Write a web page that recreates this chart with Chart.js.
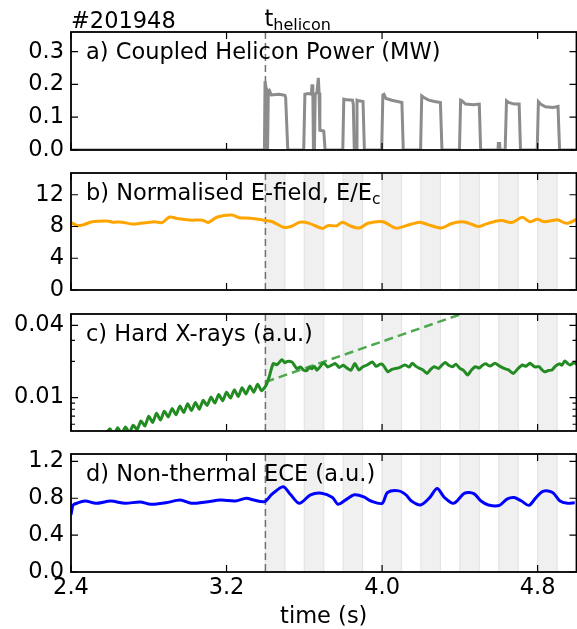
<!DOCTYPE html>
<html>
<head>
<meta charset="utf-8">
<script src="https://cdn.jsdelivr.net/npm/chart.js@4.4.1/dist/chart.umd.min.js"></script>
<style>
  html, body { margin: 0; padding: 0; background: #fff; }
  #wrap { position: relative; width: 577px; height: 629px; }
  #wrap canvas { position: absolute; left: 0; top: 0; }
</style>
</head>
<body>
<div id="wrap">
  <canvas id="panelA" width="577" height="629"></canvas>
  <canvas id="panelB" width="577" height="629"></canvas>
  <canvas id="panelC" width="577" height="629"></canvas>
  <canvas id="panelD" width="577" height="629"></canvas>
</div>
<script>
// ============================================
// Shot #201948 - helicon pulses vs runaway signals
// 4 stacked panels sharing the time axis
// ============================================

const shotLabel = '#201948';
const tHelicon = 3.4;
const xTicks = [2.4, 3.2, 4.0, 4.8];

// helicon pulse windows (grey bands)
const pulseStart = [3.4, 3.6, 3.8, 4.0, 4.2, 4.4, 4.6, 4.8];
const pulseEnd   = [3.5, 3.7, 3.9, 4.1, 4.3, 4.5, 4.7, 4.9];

// a) coupled helicon power (MW)
const powerTime = [2.40, 3.395, 3.398, 3.403, 3.406, 3.411, 3.415, 3.420, 3.430, 3.470, 3.500, 3.504, 3.515,
  3.597, 3.603, 3.620, 3.636, 3.640, 3.644, 3.647, 3.652, 3.656, 3.665, 3.672, 3.676, 3.680, 3.700, 3.707,
  3.798, 3.803, 3.820, 3.848, 3.852, 3.857, 3.866, 3.871, 3.880, 3.902, 3.909,
  3.998, 4.004, 4.010, 4.020, 4.050, 4.080, 4.102, 4.109,
  4.198, 4.204, 4.215, 4.240, 4.270, 4.300, 4.308,
  4.398, 4.404, 4.410, 4.430, 4.470, 4.500, 4.507,
  4.596, 4.598, 4.605, 4.607,
  4.633, 4.640, 4.650, 4.680, 4.705, 4.712,
  4.798, 4.804, 4.815, 4.840, 4.880, 4.905, 4.913, 5.0];
const powerMW = [0, 0, 0.21, 0.19, 0.02, 0, 0.18, 0.182, 0.168, 0.17, 0.167, 0.16, 0,
  0, 0.17, 0.172, 0.17, 0.20, 0.17, 0, 0, 0.17, 0.175, 0.22, 0.175, 0.06, 0.058, 0,
  0, 0.155, 0.153, 0.152, 0.14, 0, 0, 0.152, 0.15, 0.148, 0,
  0, 0.168, 0.17, 0.157, 0.152, 0.148, 0.145, 0,
  0, 0.165, 0.16, 0.152, 0.148, 0.145, 0,
  0, 0.152, 0.15, 0.14, 0.138, 0.14, 0,
  0, 0.02, 0.02, 0,
  0, 0.15, 0.145, 0.14, 0.14, 0,
  0, 0.147, 0.14, 0.132, 0.13, 0.133, 0, 0];
const powerTicks = [0, 0.1, 0.2, 0.3];

// b) normalised E-field E/Ec
const efieldTime = [2.400, 2.434, 2.462, 2.510, 2.585, 2.614, 2.661, 2.718, 2.756, 2.793, 2.831, 2.869, 2.907,
  2.945, 3.020, 3.077, 3.105, 3.153, 3.228, 3.266, 3.323, 3.399, 3.436, 3.493, 3.531, 3.578, 3.626,
  3.692, 3.720, 3.767, 3.796, 3.834, 3.881, 3.928, 4.004, 4.070, 4.117, 4.193, 4.240, 4.306, 4.354,
  4.410, 4.448, 4.495, 4.533, 4.590, 4.618, 4.666, 4.722, 4.760, 4.798, 4.836, 4.874, 4.902, 4.949, 5.0];
const efield = [8.5, 8.1, 8.2, 8.6, 8.7, 8.55, 8.55, 8.3, 8.4, 8.5, 8.6, 8.5, 9.2,
  9.0, 8.8, 8.8, 8.5, 9.2, 9.45, 9.1, 9.05, 8.76, 8.6, 7.9, 8.0, 8.55, 8.4,
  7.75, 8.1, 8.1, 8.55, 8.1, 7.8, 8.4, 8.6, 7.8, 8.05, 8.55, 8.2, 7.8, 8.35,
  8.6, 8.4, 8.0, 8.3, 8.7, 8.75, 8.5, 9.15, 8.6, 8.9, 8.6, 8.75, 8.85, 8.4, 8.9];
const efieldTicks = [0, 4, 8, 12];

// c) hard X-rays (a.u., log axis)
const hxrTime = [2.56, 2.58, 2.60, 2.62, 2.64, 2.66, 2.68, 2.70, 2.72, 2.74, 2.76, 2.78, 2.80, 2.82, 2.84,
  2.86, 2.88, 2.90, 2.92, 2.94, 2.96, 2.98, 3.00, 3.02, 3.04, 3.06, 3.08, 3.10, 3.12, 3.14, 3.16,
  3.18, 3.20, 3.22, 3.24, 3.26, 3.28, 3.30, 3.32, 3.34, 3.36, 3.38, 3.40,
  3.405, 3.42, 3.44, 3.46, 3.485, 3.50, 3.511, 3.536, 3.55, 3.562, 3.58, 3.595, 3.613, 3.625, 3.639,
  3.652, 3.665, 3.68, 3.70, 3.72, 3.74, 3.76, 3.78, 3.80, 3.82, 3.84, 3.86, 3.88, 3.90, 3.92, 3.95,
  3.97, 3.99, 4.005, 4.03, 4.05, 4.07, 4.09, 4.117, 4.14, 4.155, 4.175, 4.193, 4.21, 4.231, 4.25,
  4.268, 4.29, 4.31, 4.325, 4.345, 4.363, 4.38, 4.40, 4.42, 4.44, 4.46, 4.48, 4.50, 4.515, 4.533,
  4.555, 4.58, 4.60, 4.628, 4.65, 4.675, 4.70, 4.722, 4.74, 4.76, 4.785, 4.808, 4.82, 4.836, 4.855,
  4.874, 4.89, 4.912, 4.925, 4.94, 4.955, 4.968, 4.987, 5.0];
const hxr = [0.0040, 0.0050, 0.0055, 0.0049, 0.0056, 0.0050, 0.0057, 0.0051, 0.0059, 0.0054, 0.0064, 0.0058, 0.0070, 0.0062, 0.0074,
  0.0065, 0.0077, 0.0069, 0.0081, 0.0072, 0.0085, 0.0075, 0.0089, 0.0078, 0.0091, 0.0080, 0.0095, 0.0086, 0.0101, 0.0090, 0.0106,
  0.0094, 0.0111, 0.0099, 0.0116, 0.0102, 0.0121, 0.0107, 0.0125, 0.0111, 0.0129, 0.0114, 0.0124,
  0.0128, 0.0150, 0.0192, 0.0188, 0.0207, 0.0195, 0.0200, 0.0198, 0.0185, 0.0174, 0.0180, 0.0170, 0.0168, 0.0178, 0.0174,
  0.0182, 0.0169, 0.0180, 0.0195, 0.0180, 0.0186, 0.0192, 0.0178, 0.0186, 0.0176, 0.0169, 0.0192, 0.0170, 0.0180, 0.0186, 0.0198,
  0.0182, 0.0190, 0.0187, 0.0164, 0.0172, 0.0175, 0.0178, 0.0187, 0.0180, 0.0193, 0.0182, 0.0175, 0.0170, 0.0159, 0.0172,
  0.0181, 0.0175, 0.0188, 0.0196, 0.0185, 0.0181, 0.0190, 0.0175, 0.0168, 0.0154, 0.0170, 0.0181, 0.0176, 0.0185, 0.0191,
  0.0183, 0.0193, 0.0185, 0.0175, 0.0170, 0.0159, 0.0175, 0.0187, 0.0182, 0.0193, 0.0180, 0.0181, 0.0172, 0.0164, 0.0168,
  0.0170, 0.0182, 0.0191, 0.0186, 0.0202, 0.0192, 0.0187, 0.0196, 0.0190];
// exponential extrapolation of the pre-helicon growth
const hxrFitTime = [3.40, 4.45];
const hxrFit = [0.0135, 0.0524];
const hxrTicks = [0.01, 0.04];
const hxrMinorTicks = [0.006, 0.007, 0.008, 0.009, 0.02, 0.03];

// d) non-thermal ECE (a.u.)
const eceTime = [2.400, 2.409, 2.415, 2.472, 2.528, 2.604, 2.679, 2.755, 2.811, 2.887, 2.962, 3.019, 3.094,
  3.170, 3.245, 3.302, 3.340, 3.396, 3.434, 3.491, 3.528, 3.575, 3.632, 3.689, 3.745, 3.774, 3.811,
  3.858, 3.906, 3.943, 4.000, 4.028, 4.085, 4.123, 4.151, 4.198, 4.245, 4.283, 4.321, 4.368, 4.425,
  4.472, 4.509, 4.547, 4.604, 4.642, 4.679, 4.717, 4.755, 4.792, 4.830, 4.877, 4.915, 4.953, 4.991];
const ece = [0.62, 0.72, 0.734, 0.77, 0.745, 0.77, 0.745, 0.76, 0.734, 0.75, 0.78, 0.745, 0.76,
  0.78, 0.77, 0.80, 0.78, 0.763, 0.844, 0.925, 0.844, 0.745, 0.837, 0.855, 0.807, 0.734, 0.78,
  0.837, 0.815, 0.77, 0.745, 0.862, 0.88, 0.837, 0.77, 0.727, 0.807, 0.906, 0.807, 0.745, 0.855,
  0.85, 0.77, 0.727, 0.723, 0.79, 0.807, 0.77, 0.723, 0.807, 0.877, 0.862, 0.77, 0.745, 0.75];
const eceTicks = [0, 0.4, 0.8, 1.2];

const FONT = 'DejaVu Sans';
const FS = 22.5;
Chart.defaults.font.family = FONT;
Chart.defaults.font.size = FS;
Chart.defaults.color = '#000';

function pts(xs, ys) {
    return xs.map((x, i) => ({ x: x, y: ys[i] }));
}

// text with an optional subscript part
function drawSubText(ctx, x, y, main, sub, subSize, drop) {
    ctx.font = FS + 'px "' + FONT + '"';
    ctx.fillText(main, x, y);
    if (!sub) return;
    const w = ctx.measureText(main).width;
    ctx.font = subSize + 'px "' + FONT + '"';
    ctx.fillText(sub, x + w, y + drop);
}

// matplotlib-like frame: shaded pulses, t_helicon marker, inward ticks, panel label
const framePlugin = {
    id: 'frame',
    beforeDatasetsDraw(chart, args, opts) {
        const { ctx, chartArea: a, scales: { x } } = chart;
        ctx.save();
        if (opts.bands) {
            for (let i = 0; i < pulseStart.length; i++) {
                const x0 = x.getPixelForValue(pulseStart[i]);
                const x1 = x.getPixelForValue(pulseEnd[i]);
                ctx.fillStyle = '#f0f0f0';
                ctx.fillRect(x0, a.top, x1 - x0, a.bottom - a.top);
                ctx.strokeStyle = '#e4e4e4';
                ctx.lineWidth = 1.2;
                ctx.beginPath();
                ctx.moveTo(x0, a.top); ctx.lineTo(x0, a.bottom);
                ctx.moveTo(x1, a.top); ctx.lineTo(x1, a.bottom);
                ctx.stroke();
            }
        }
        const xh = x.getPixelForValue(tHelicon);
        ctx.strokeStyle = '#707070';
        ctx.lineWidth = 1.5;
        ctx.setLineDash([7, 4]);
        ctx.beginPath();
        ctx.moveTo(xh, a.top);
        ctx.lineTo(xh, a.bottom);
        ctx.stroke();
        ctx.restore();
    },
    afterDatasetsDraw(chart, args, opts) {
        const { ctx, chartArea: a, scales: { x, y } } = chart;
        ctx.save();
        ctx.strokeStyle = '#000';
        ctx.lineWidth = 1.8;
        ctx.strokeRect(a.left, a.top, a.right - a.left, a.bottom - a.top);
        ctx.lineWidth = 1.2;
        ctx.beginPath();
        xTicks.forEach(v => {
            const px = x.getPixelForValue(v);
            ctx.moveTo(px, a.bottom); ctx.lineTo(px, a.bottom - 7);
            ctx.moveTo(px, a.top); ctx.lineTo(px, a.top + 7);
        });
        opts.yTicks.forEach(v => {
            const py = y.getPixelForValue(v);
            ctx.moveTo(a.left, py); ctx.lineTo(a.left + 7, py);
            ctx.moveTo(a.right, py); ctx.lineTo(a.right - 7, py);
        });
        (opts.yMinor || []).forEach(v => {
            const py = y.getPixelForValue(v);
            ctx.moveTo(a.left, py); ctx.lineTo(a.left + 4, py);
            ctx.moveTo(a.right, py); ctx.lineTo(a.right - 4, py);
        });
        ctx.stroke();
        ctx.restore();
    },
    afterDraw(chart, args, opts) {
        const { ctx, chartArea: a } = chart;
        ctx.save();
        ctx.fillStyle = '#000';
        ctx.textAlign = 'left';
        ctx.textBaseline = 'alphabetic';
        drawSubText(ctx, a.left + 15, a.top + 27, opts.label, opts.labelSub, 15.5, 4);
        if (opts.header) {
            drawSubText(ctx, a.left, 28, shotLabel, null);
            const xh = chart.scales.x.getPixelForValue(tHelicon);
            drawSubText(ctx, xh - 1, 25.5, 't', 'helicon', 16, 4);
        }
        ctx.restore();
    }
};

function makePanel(id, p) {
    const isBottom = !!p.bottom;
    const datasets = [{
        data: pts(p.xs, p.ys),
        borderColor: p.color,
        borderWidth: 3,
        pointRadius: 0,
        tension: p.tension || 0,
        clip: 0
    }];
    if (p.extra) datasets.push(p.extra);

    new Chart(document.getElementById(id).getContext('2d'), {
        type: 'line',
        data: { datasets: datasets },
        options: {
            responsive: false,
            animation: false,
            events: [],
            layout: { padding: { top: p.top, bottom: p.padBottom, left: 0, right: 0.5 } },
            plugins: {
                legend: { display: false },
                tooltip: { enabled: false },
                frame: {
                    bands: p.bands, yTicks: p.yTicks, yMinor: p.yMinor,
                    label: p.label, labelSub: p.labelSub, header: p.header
                }
            },
            scales: {
                x: {
                    type: 'linear',
                    min: 2.4,
                    max: 5.0,
                    grid: { display: false, drawTicks: false },
                    border: { display: false },
                    afterBuildTicks: s => { s.ticks = xTicks.map(v => ({ value: v })); },
                    afterFit: s => { s.height = isBottom ? 57 : 0; },
                    ticks: {
                        display: isBottom,
                        padding: 3,
                        maxRotation: 0,
                        autoSkip: false,
                        callback: v => Number(v).toFixed(1)
                    },
                    title: {
                        display: isBottom,
                        text: 'time (s)',
                        font: { size: FS, lineHeight: 1 },
                        padding: { top: 0, bottom: 1 }
                    }
                },
                y: {
                    type: p.log ? 'logarithmic' : 'linear',
                    min: p.yMin,
                    max: p.yMax,
                    grid: { display: false, drawTicks: false },
                    border: { display: false },
                    afterBuildTicks: s => { s.ticks = p.yTicks.map(v => ({ value: v })); },
                    afterFit: s => { s.width = 71; },
                    ticks: {
                        padding: 7,
                        autoSkip: false,
                        callback: v => Number(v).toFixed(p.decimals)
                    }
                }
            }
        },
        plugins: [framePlugin]
    });
}

makePanel('panelA', {
    xs: powerTime, ys: powerMW, color: '#8c8c8c',
    yMin: 0, yMax: 0.36, yTicks: powerTicks, decimals: 1,
    top: 32, padBottom: 629 - 150, bands: false,
    label: 'a) Coupled Helicon Power (MW)', header: true
});

makePanel('panelB', {
    xs: efieldTime, ys: efield, color: '#ffa500', tension: 0.3,
    yMin: 0, yMax: 14.74, yTicks: efieldTicks, decimals: 0,
    top: 173, padBottom: 629 - 290, bands: true,
    label: 'b) Normalised E-field, E/E', labelSub: 'c'
});

makePanel('panelC', {
    xs: hxrTime, ys: hxr, color: '#228b22', log: true, tension: 0.2,
    yMin: 0.00527, yMax: 0.0497, yTicks: hxrTicks, yMinor: hxrMinorTicks, decimals: 2,
    top: 314, padBottom: 629 - 431, bands: true,
    label: 'c) Hard X-rays (a.u.)',
    extra: {
        data: pts(hxrFitTime, hxrFit),
        borderColor: '#4fa84f',
        borderWidth: 2.5,
        borderDash: [9, 5],
        pointRadius: 0,
        clip: 0
    }
});

makePanel('panelD', {
    xs: eceTime, ys: ece, color: '#0000ff', tension: 0.3,
    yMin: 0, yMax: 1.28, yTicks: eceTicks, decimals: 1,
    top: 454, padBottom: 0, bands: true, bottom: true,
    label: 'd) Non-thermal ECE (a.u.)'
});
</script>
</body>
</html>
